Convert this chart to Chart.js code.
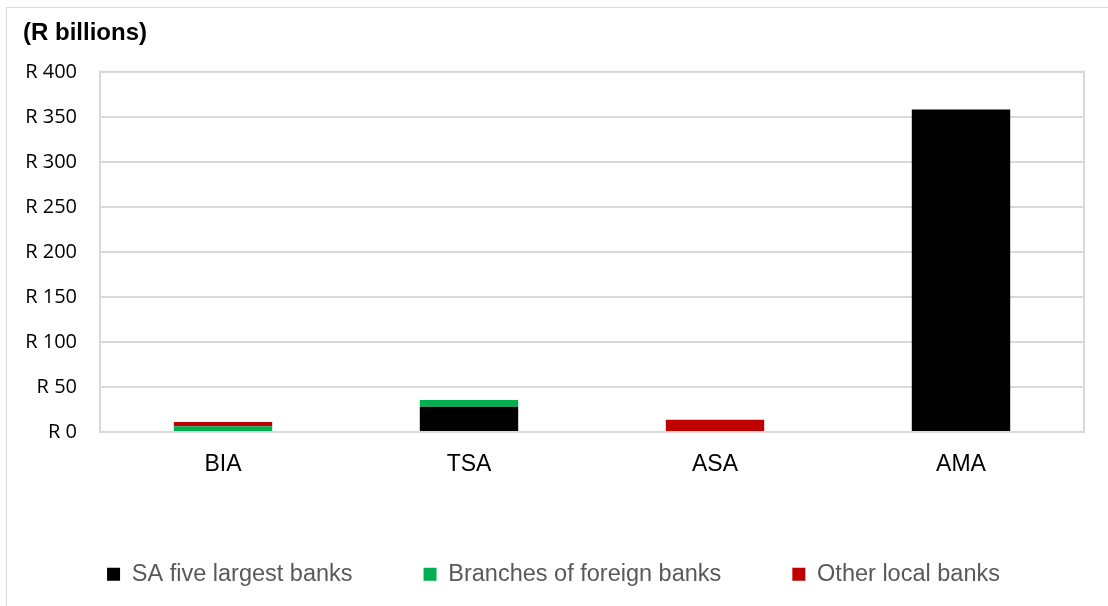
<!DOCTYPE html>
<html>
<head>
<meta charset="utf-8">
<script src="https://cdn.jsdelivr.net/npm/chart.js@4.4.1/dist/chart.umd.min.js"></script>
<style>
  html, body { margin: 0; padding: 0; background: #fff; }
  #wrap { position: relative; width: 1108px; height: 606px; overflow: hidden; }
  #frame {
    position: absolute; left: 6px; top: 7px; width: 1200px; height: 700px;
    border-left: 1px solid #d9d9d9; border-top: 1px solid #d9d9d9;
  }
  #chart { position: absolute; left: 0; top: 0; }
</style>
</head>
<body>
<div id="wrap">
  <div id="frame"></div>
  <canvas id="chart" width="1108" height="606"></canvas>
</div>
<script>
// ── Data ────────────────────────────────────────────────
const categories = ['BIA', 'TSA', 'ASA', 'AMA'];
const saFiveLargest = [0, 28, 0, 358];
const foreignBranches = [6.5, 7.5, 0, 0];
const otherLocal = [4.5, 0, 13.5, 0];
const yTickValues = [0, 50, 100, 150, 200, 250, 300, 350, 400];
const yTickLabels = ['R 0', 'R 50', 'R 100', 'R 150', 'R 200', 'R 250', 'R 300', 'R 350', 'R 400'];

const GRID = '#d9d9d9';
const ARIAL = "Arial, 'Liberation Sans', sans-serif";

// frame round the plot area (left, top, right and bottom edges)
const plotFrame = {
  id: 'plotFrame',
  afterDraw(chart) {
    const { ctx, chartArea: a } = chart;
    ctx.save();
    ctx.strokeStyle = GRID;
    ctx.lineWidth = 2;
    ctx.strokeRect(a.left, a.top, a.right - a.left, a.bottom - a.top);
    ctx.restore();
  }
};

function series(label, data, color) {
  return {
    label,
    data,
    backgroundColor: color,
    borderWidth: 0,
    barPercentage: 0.4,
    categoryPercentage: 1
  };
}

new Chart(document.getElementById('chart'), {
  type: 'bar',
  data: {
    labels: categories,
    datasets: [
      series('SA five largest banks', saFiveLargest, '#000000'),
      series('Branches of foreign banks', foreignBranches, '#00B050'),
      series('Other local banks', otherLocal, '#C00000')
    ]
  },
  plugins: [plotFrame],
  options: {
    responsive: false,
    animation: false,
    layout: { padding: { left: 23, right: 24, top: 8, bottom: 10 } },
    plugins: {
      tooltip: { enabled: false },
      title: {
        display: true,
        text: '(R billions)',
        align: 'start',
        color: '#000',
        font: { family: ARIAL, size: 24, weight: 'bold' },
        padding: { top: 11, bottom: 24 }
      },
      legend: {
        position: 'bottom',
        labels: {
          boxWidth: 13,
          boxHeight: 13,
          padding: 71,
          color: '#595959',
          font: { family: ARIAL, size: 23.5 }
        }
      }
    },
    scales: {
      x: {
        stacked: true,
        grid: { display: false, drawTicks: false },
        border: { color: GRID, width: 2 },
        ticks: { color: '#000', padding: 19, font: { family: ARIAL, size: 23 } },
        afterFit(scale) { scale.height = 59.5; }
      },
      y: {
        stacked: true,
        min: 0,
        max: 400,
        afterBuildTicks(scale) { scale.ticks = yTickValues.map(v => ({ value: v })); },
        afterFit(scale) { scale.width = 77; },
        grid: { color: GRID, lineWidth: 2, drawTicks: false },
        border: { color: GRID, width: 2 },
        ticks: {
          color: '#000',
          padding: 23,
          font: { family: "'Open Sans', sans-serif", size: 20 },
          callback: (v) => yTickLabels[yTickValues.indexOf(v)]
        }
      }
    }
  }
});
</script>
</body>
</html>
